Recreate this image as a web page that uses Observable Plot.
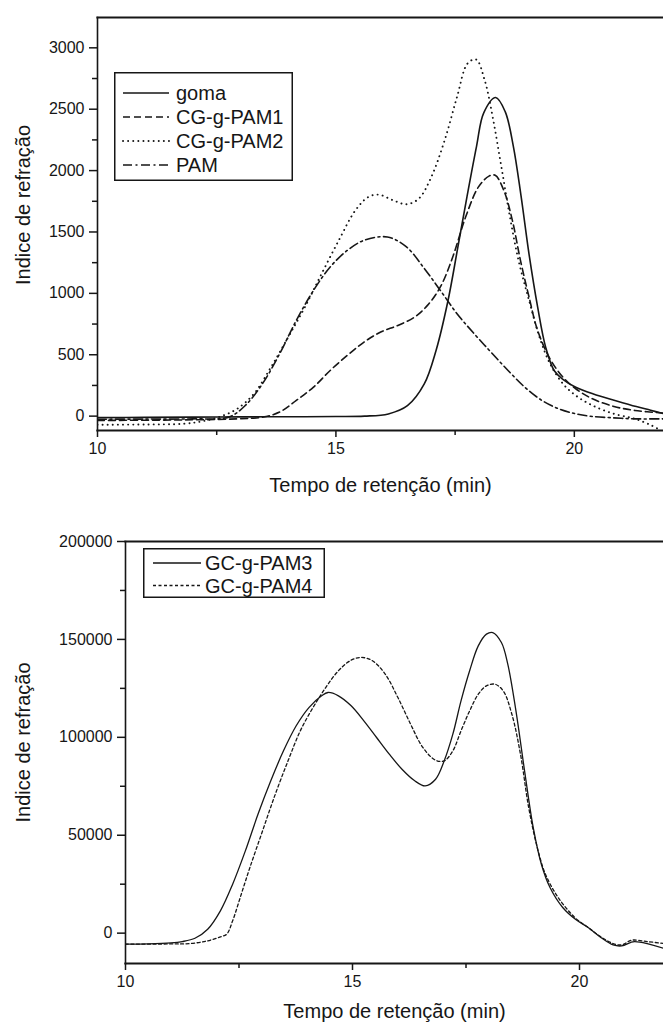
<!DOCTYPE html>
<html><head><meta charset="utf-8">
<script src="https://cdn.jsdelivr.net/npm/d3@7"></script>
<script src="https://cdn.jsdelivr.net/npm/@observablehq/plot@0.6"></script>
<style>
body{margin:0;background:#fff;font-family:"Liberation Sans",Arial,sans-serif;}
#wrap{position:relative;width:663px;height:1024px;overflow:hidden;background:#fff;}
#wrap svg{display:block;}
.legend{position:absolute;}
</style></head><body><div id="wrap"></div>
<script>
// ---------- Top chart data ----------
const gomaT = [10, 11, 12, 13, 14, 15, 15.6, 16.1, 16.5, 16.85, 17.1, 17.35, 17.55, 17.75, 17.95, 18.1, 18.35, 18.55, 18.72, 18.88, 19.05, 19.23, 19.4, 19.58, 19.76, 20.03, 20.4, 20.85, 21.3, 21.6, 21.87];
const gomaV = [-12, -10, -8, -6, -5, -3, 0, 18, 85, 260, 535, 940, 1360, 1790, 2200, 2470, 2595, 2480, 2200, 1800, 1320, 890, 560, 370, 300, 235, 180, 128, 78, 48, 20];
const pam1T = [10, 11, 12, 12.93, 13.46, 13.82, 14.17, 14.53, 14.88, 15.24, 15.59, 15.94, 16.3, 16.65, 16.92, 17.19, 17.45, 17.72, 17.99, 18.21, 18.34, 18.52, 18.7, 18.87, 19.05, 19.23, 19.49, 19.76, 20.03, 20.38, 20.83, 21.27, 21.87];
const pam1V = [-35, -33, -30, -22, -8, 33, 128, 236, 372, 495, 603, 685, 739, 807, 902, 1052, 1296, 1622, 1867, 1955, 1962, 1840, 1595, 1269, 970, 698, 467, 318, 223, 141, 79, 46, 25];
const pam2T = [10, 11, 11.8, 12.2, 12.6, 12.93, 13.28, 13.64, 14.0, 14.35, 14.7, 15.06, 15.41, 15.68, 15.9, 16.2, 16.48, 16.74, 17.0, 17.28, 17.54, 17.76, 17.94, 18.12, 18.3, 18.47, 18.65, 18.83, 19.05, 19.27, 19.49, 19.76, 20.03, 20.38, 20.83, 21.27, 21.62, 21.87];
const pam2V = [-70, -68, -62, -42, 0, 60, 182, 400, 644, 889, 1160, 1432, 1677, 1785, 1804, 1758, 1726, 1772, 1948, 2247, 2600, 2872, 2905, 2736, 2410, 2030, 1622, 1269, 943, 644, 427, 264, 168, 87, 19, -22, -76, -130];
const pamT = [10, 11, 12, 12.75, 13.1, 13.46, 13.82, 14.17, 14.53, 14.88, 15.24, 15.59, 16.08, 16.48, 16.83, 17.19, 17.54, 17.9, 18.25, 18.61, 18.96, 19.32, 19.67, 20.03, 20.38, 20.83, 21.27, 21.87];
const pamV = [-25, -24, -22, -8, 87, 264, 508, 780, 1024, 1215, 1350, 1432, 1459, 1378, 1215, 1024, 834, 671, 522, 372, 236, 128, 60, 19, -3, -14, -22, -22];
const topNames = ["goma", "CG-g-PAM1", "CG-g-PAM2", "PAM"];
const topXTicks = [10, 15, 20];
const topXMinor = [12.5, 17.5];
const topYTicks = [0, 500, 1000, 1500, 2000, 2500, 3000];
const topYMinor = [250, 750, 1250, 1750, 2250, 2750];

// ---------- Bottom chart data ----------
const pam3T = [10, 10.5, 11, 11.25, 11.53, 11.81, 12.09, 12.36, 12.64, 12.92, 13.2, 13.48, 13.76, 14.04, 14.32, 14.46, 14.69, 14.97, 15.25, 15.53, 15.81, 16.09, 16.37, 16.6, 16.83, 17.02, 17.21, 17.39, 17.58, 17.77, 17.95, 18.09, 18.28, 18.42, 18.6, 18.79, 18.98, 19.16, 19.35, 19.63, 19.91, 20.19, 20.47, 20.74, 20.93, 21.12, 21.21, 21.49, 21.85];
const pam3V = [-5600, -5500, -5000, -4300, -2600, 2000, 11400, 25000, 42000, 60800, 77800, 93100, 105900, 115200, 121200, 122900, 121200, 116100, 108400, 99900, 91400, 83700, 77800, 75200, 78600, 88000, 101600, 118600, 134000, 146700, 152700, 153500, 148400, 137400, 113500, 82900, 54000, 35200, 23300, 13100, 7100, 2900, -2200, -6000, -6500, -4800, -4300, -5300, -7700];
const pam4T = [10, 11, 11.43, 11.81, 12.09, 12.23, 12.36, 12.55, 12.74, 13.02, 13.3, 13.58, 13.85, 14.13, 14.41, 14.69, 14.97, 15.2, 15.44, 15.72, 16.0, 16.28, 16.55, 16.83, 17.02, 17.21, 17.39, 17.58, 17.77, 17.95, 18.14, 18.32, 18.51, 18.7, 18.88, 19.07, 19.25, 19.53, 19.91, 20.19, 20.47, 20.74, 20.93, 21.15, 21.49, 21.85];
const pam4V = [-5600, -5500, -5300, -3900, -1900, -500, 6300, 19900, 33500, 52300, 71000, 88000, 103300, 115200, 125400, 134000, 139400, 140800, 139100, 132300, 120300, 106700, 94800, 88300, 88000, 93100, 103300, 113500, 122000, 126300, 127100, 123700, 111800, 91400, 64200, 43700, 30100, 18200, 7700, 2900, -1900, -5300, -6000, -3600, -4300, -5300];
const botNames = ["GC-g-PAM3", "GC-g-PAM4"];
const botXTicks = [10, 15, 20];
const botXMinor = [12.5, 17.5];
const botYTicks = [0, 50000, 100000, 150000, 200000];
const botYMinor = [25000, 75000, 125000, 175000];

const xTitle = "Tempo de retenção (min)";
const yTitle = "Indice de refração";

// ---------- helpers ----------
const rows = (ts, vs) => ts.map((t, i) => ({t, v: vs[i]}));
const INK = "#161616";
const FONT = "'Liberation Sans', Arial, sans-serif";
const fmt = d3.format("d");

const topStyles = [
  {strokeWidth: 1.6},
  {strokeWidth: 1.6, strokeDasharray: "7,4"},
  {strokeWidth: 1.9, strokeDasharray: "0.1,5", strokeLinecap: "round"},
  {strokeWidth: 1.6, strokeDasharray: "9,3.5,2,3.5"}
];
const botStyles = [
  {strokeWidth: 1.3},
  {strokeWidth: 1.3, strokeDasharray: "3,2.5"}
];

function axes(xT, xM, yT, yM) {
  return [
    Plot.axisX(xT, {tickSize: 7, tickPadding: 5, label: null, fontSize: 16, strokeWidth: 1.5, tickFormat: fmt}),
    Plot.axisX(xM, {tickSize: 5, tickFormat: () => "", label: null, strokeWidth: 1.5}),
    Plot.axisY(yT, {tickSize: 8, tickPadding: 5, label: null, fontSize: 16, strokeWidth: 1.5, tickFormat: fmt}),
    Plot.axisY(yM, {tickSize: 5, tickFormat: () => "", label: null, strokeWidth: 1.5}),
    Plot.frame({anchor: "top", strokeWidth: 2.2, stroke: INK}),
    Plot.frame({anchor: "bottom", strokeWidth: 2.2, stroke: INK}),
    Plot.frame({anchor: "left", strokeWidth: 1.6, stroke: INK})
  ];
}

const topSeries = [rows(gomaT, gomaV), rows(pam1T, pam1V), rows(pam2T, pam2V), rows(pamT, pamV)];
const topPlot = Plot.plot({
  width: 663, height: 500,
  marginLeft: 97, marginRight: 0, marginTop: 17, marginBottom: 70,
  x: {domain: [10, 21.87]},
  y: {domain: [-117, 3247]},
  style: {fontFamily: FONT, fontSize: "16px", color: INK, background: "#fff"},
  marks: [
    ...topSeries.map((d, i) => Plot.line(d, {x: "t", y: "v", stroke: INK, curve: "catmull-rom", clip: true, ...topStyles[i]})),
    ...axes(topXTicks, topXMinor, topYTicks, topYMinor),
    Plot.text([xTitle], {frameAnchor: "bottom", dy: 55, fontSize: 20, lineAnchor: "middle", fill: INK}),
    Plot.text([yTitle], {frameAnchor: "left", rotate: -90, dx: -74, dy: -19, fontSize: 20, textAnchor: "middle", lineAnchor: "middle", fill: INK})
  ]
});

const botSeries = [rows(pam3T, pam3V), rows(pam4T, pam4V)];
const botPlot = Plot.plot({
  width: 663, height: 524,
  marginLeft: 125, marginRight: 0, marginTop: 41, marginBottom: 61,
  x: {domain: [10, 21.85]},
  y: {domain: [-15500, 200000]},
  style: {fontFamily: FONT, fontSize: "16px", color: INK, background: "#fff"},
  marks: [
    ...botSeries.map((d, i) => Plot.line(d, {x: "t", y: "v", stroke: INK, curve: "catmull-rom", clip: true, ...botStyles[i]})),
    ...axes(botXTicks, botXMinor, botYTicks, botYMinor),
    Plot.text([xTitle], {frameAnchor: "bottom", dy: 48, fontSize: 20, lineAnchor: "middle", fill: INK}),
    Plot.text([yTitle], {frameAnchor: "left", rotate: -90, dx: -102, dy: -10, fontSize: 20, textAnchor: "middle", lineAnchor: "middle", fill: INK})
  ]
});

const wrap = document.getElementById("wrap");
wrap.appendChild(topPlot);
wrap.appendChild(botPlot);

function legend(names, styles, box) {
  const div = d3.select(wrap).append("div").attr("class", "legend")
    .style("left", box.left + "px").style("top", box.top + "px");
  const svg = div.append("svg").attr("width", box.w).attr("height", box.h);
  svg.append("rect").attr("x", 0.75).attr("y", 0.75).attr("width", box.w - 1.5).attr("height", box.h - 1.5)
    .attr("fill", "#fff").attr("stroke", INK).attr("stroke-width", 1.5);
  names.forEach((n, i) => {
    const y = box.y0 + i * box.dy;
    const s = styles[i];
    svg.append("line").attr("x1", box.sx0).attr("x2", box.sx1).attr("y1", y).attr("y2", y)
      .attr("stroke", INK).attr("stroke-width", s.strokeWidth)
      .attr("stroke-dasharray", s.strokeDasharray || null)
      .attr("stroke-linecap", s.strokeLinecap || null);
    svg.append("text").attr("x", box.tx).attr("y", y).attr("dy", "0.35em")
      .attr("font-family", FONT).attr("font-size", 20).attr("fill", INK).text(n);
  });
}
legend(topNames, topStyles, {left: 114, top: 72, w: 179, h: 109, y0: 21, dy: 24, sx0: 9, sx1: 55, tx: 62});
legend(botNames, botStyles, {left: 143, top: 548, w: 182, h: 50, y0: 15, dy: 22.5, sx0: 10, sx1: 58, tx: 62});
</script></body></html>
